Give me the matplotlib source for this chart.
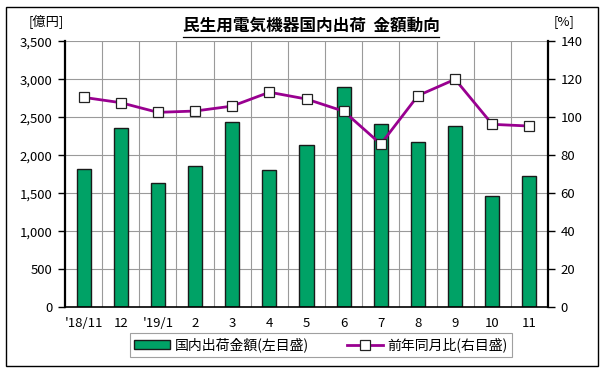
import matplotlib
matplotlib.use("Agg")
import matplotlib.pyplot as plt
from matplotlib.lines import Line2D
from matplotlib.patches import Patch, Rectangle
import numpy as np

plt.rcParams['font.family'] = ['Noto Sans CJK JP', 'DejaVu Sans']

months = ["'18/11", "12", "'19/1", "2", "3", "4", "5", "6", "7", "8", "9", "10", "11"]
shipments = [1816, 2355, 1632, 1859, 2442, 1803, 2132, 2903, 2412, 2179, 2386, 1469, 1724]
yoy = [110.5, 107.7, 102.6, 103.3, 105.9, 113.2, 109.6, 103.2, 85.9, 111.4, 120.0, 96.3, 95.4]

bar_label = "国内出荷金額(左目盛)"
line_label = "前年同月比(右目盛)"
title = "民生用電気機器国内出荷  金額動向"

fig = plt.figure(figsize=(6.04, 3.72), dpi=100)
ax = fig.add_axes([65/604, 1-307.3/372, (548-65)/604, (307.3-41.3)/372])
x = np.arange(len(months))

grid_c = '#9a9a9a'
ax.set_xlim(-0.5, len(months)-0.5)
ax.set_ylim(0, 3500)
ax.set_yticks(np.arange(0, 3501, 500))
ax.set_yticklabels([f"{v:,}" for v in range(0, 3501, 500)])
for v in range(500, 3501, 500):
    ax.axhline(v, color=grid_c, lw=0.8, zorder=0)
for b in np.arange(0.5, len(months)-0.5, 1):
    ax.axvline(b, color=grid_c, lw=0.8, zorder=0)

ax.bar(x, shipments, width=0.38, color='#00A266', edgecolor='#1a1a1a', linewidth=1.0, zorder=2)
ax.set_xticks(x)
ax.set_xticklabels(months)
ax.tick_params(axis='x', length=0, pad=7, labelsize=9.5)
ax.tick_params(axis='y', direction='out', length=5, width=1, pad=4, labelsize=9.5)

ax.spines['left'].set_linewidth(1.6)
ax.spines['bottom'].set_linewidth(1.2)
ax.spines['top'].set_visible(False)
ax.spines['right'].set_visible(False)

ax2 = ax.twinx()
ax2.set_ylim(0, 140)
ax2.set_yticks(np.arange(0, 141, 20))
ax2.plot(x, yoy, color='#990090', lw=2.0, marker='s', markersize=7,
         markerfacecolor='white', markeredgecolor='#222222', markeredgewidth=0.9, zorder=3)
ax2.tick_params(axis='y', direction='out', length=5, width=1, pad=4, labelsize=9.5)
ax2.spines['right'].set_linewidth(1.6)
ax2.spines['left'].set_visible(False)
ax2.spines['top'].set_visible(False)
ax2.spines['bottom'].set_visible(False)

t = fig.text(311/604, 1-26/372, title, ha='center', va='center', fontsize=12, fontweight='bold')
fig.canvas.draw()
bb = t.get_window_extent(fig.canvas.get_renderer())
fig.add_artist(Line2D([bb.x0/604, bb.x1/604], [1-37/372, 1-37/372], color='black', lw=0.9,
                      transform=fig.transFigure))
fig.text(46/604, 1-22/372, "[億円]", ha='center', va='center', fontsize=9.5)
fig.text(564/604, 1-22/372, "[%]", ha='center', va='center', fontsize=9.5)

handles = [Patch(facecolor='#00A266', edgecolor='#1a1a1a', linewidth=1.0),
           Line2D([0], [0], color='#990090', lw=2.0, marker='s', markersize=7,
                  markerfacecolor='white', markeredgecolor='#222222', markeredgewidth=0.9)]
leg = fig.legend(handles, [bar_label, line_label], loc='center', bbox_to_anchor=(321/604, 1-345/372),
                 ncol=2, fontsize=10, frameon=True, fancybox=False, edgecolor='#888888',
                 handlelength=2.6, handleheight=0.55, columnspacing=2.8, borderpad=0.3, handletextpad=0.3)
leg.get_frame().set_linewidth(0.8)

fig.add_artist(Rectangle((6/604, 1-366/372), 592/604, 359/372, fill=False, edgecolor='black',
                         lw=1.0, transform=fig.transFigure))

fig.savefig('out.png', dpi=100)
